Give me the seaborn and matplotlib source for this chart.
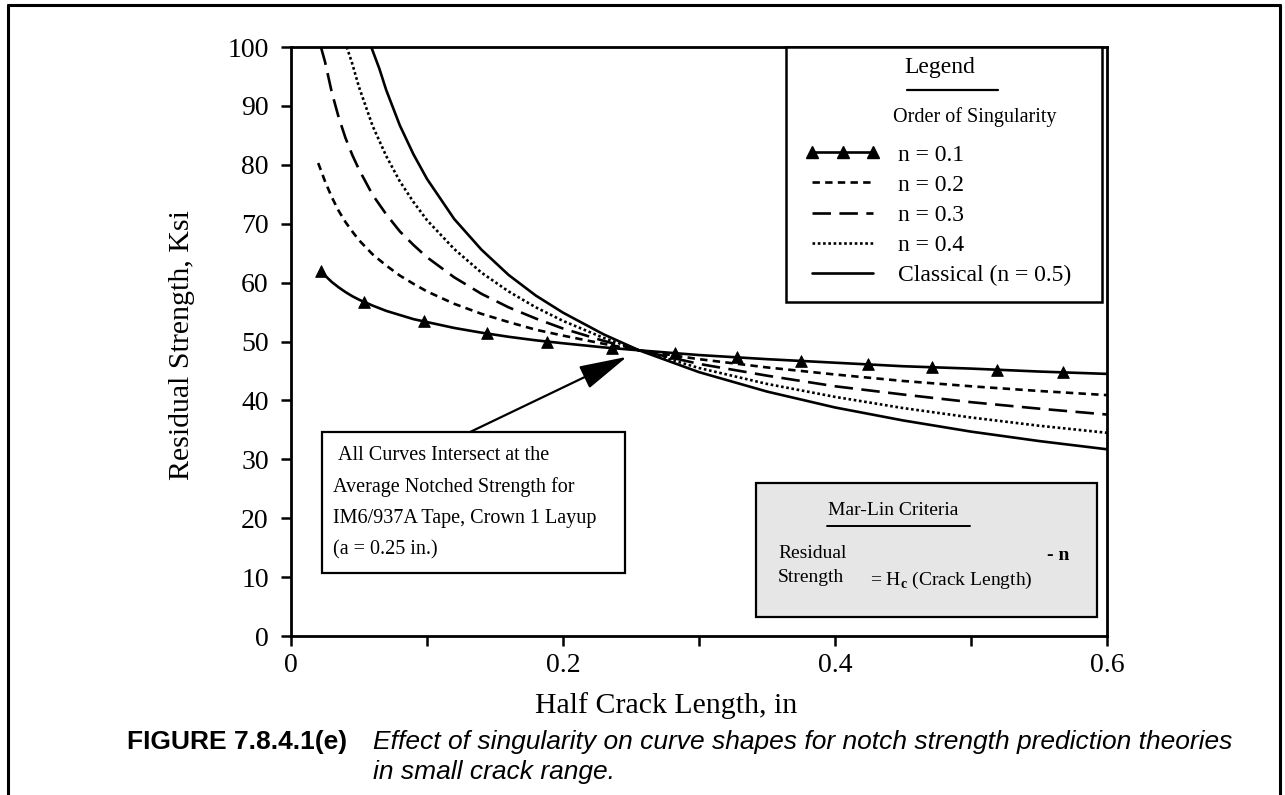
import numpy as np
import pandas as pd
import seaborn as sns
import matplotlib.pyplot as plt
from matplotlib.lines import Line2D
from matplotlib.patches import Rectangle

# values: half crack length (in) vs residual strength (ksi)
n01_x = [0.022, 0.025, 0.03, 0.035, 0.04, 0.045, 0.05, 0.06, 0.07, 0.08, 0.09, 0.10, 0.12,
         0.14, 0.16, 0.18, 0.20, 0.23, 0.256, 0.30, 0.35, 0.40, 0.45, 0.50, 0.55, 0.60]
n01_y = [62.0, 61.2, 60.1, 59.2, 58.4, 57.7, 57.1, 56.1, 55.2, 54.5, 53.8, 53.3, 52.3,
         51.5, 50.8, 50.2, 49.7, 49.0, 48.5, 47.7, 47.0, 46.4, 45.8, 45.4, 44.9, 44.5]

n02_x = [0.02, 0.025, 0.03, 0.035, 0.04, 0.045, 0.05, 0.06, 0.07, 0.08, 0.09, 0.10, 0.12,
         0.14, 0.16, 0.18, 0.20, 0.23, 0.256, 0.30, 0.35, 0.40, 0.45, 0.50, 0.55, 0.60]
n02_y = [80.3, 77.2, 74.5, 72.2, 70.3, 68.7, 67.2, 64.8, 62.9, 61.2, 59.8, 58.5, 56.4,
         54.7, 53.3, 52.0, 51.0, 49.6, 48.5, 47.0, 45.6, 44.4, 43.3, 42.4, 41.6, 40.9]

n03_x = [0.022, 0.025, 0.03, 0.035, 0.04, 0.045, 0.05, 0.06, 0.07, 0.08, 0.09, 0.10, 0.12,
         0.14, 0.16, 0.18, 0.20, 0.23, 0.256, 0.30, 0.35, 0.40, 0.45, 0.50, 0.55, 0.60]
n03_y = [100.0, 97.5, 92.3, 88.1, 84.6, 81.7, 79.2, 74.9, 71.6, 68.7, 66.4, 64.3, 60.9,
         58.1, 55.8, 53.9, 52.2, 50.1, 48.5, 46.2, 44.2, 42.4, 41.0, 39.7, 38.6, 37.6]

n04_x = [0.041, 0.045, 0.05, 0.06, 0.07, 0.08, 0.09, 0.10, 0.12, 0.14, 0.16,
         0.18, 0.20, 0.23, 0.256, 0.30, 0.35, 0.40, 0.45, 0.50, 0.55, 0.60]
n04_y = [100.0, 97.2, 93.2, 86.6, 81.5, 77.2, 73.7, 70.6, 65.7, 61.7, 58.5,
         55.8, 53.5, 50.6, 48.5, 45.5, 42.8, 40.6, 38.7, 37.1, 35.7, 34.5]

n05_x = [0.059, 0.065, 0.07, 0.08, 0.09, 0.10, 0.12, 0.14, 0.16, 0.18, 0.20,
         0.23, 0.256, 0.30, 0.35, 0.40, 0.45, 0.50, 0.55, 0.60]
n05_y = [100.0, 96.3, 92.7, 86.7, 81.8, 77.6, 70.8, 65.6, 61.3, 57.8, 54.9,
         51.2, 48.5, 44.8, 41.5, 38.8, 36.6, 34.7, 33.1, 31.7]

# triangle symbols on the n = 0.1 curve
tri_x = [0.022, 0.054, 0.098, 0.144, 0.188, 0.236, 0.282, 0.328, 0.375, 0.424, 0.471, 0.519, 0.568]
tri_y = [62.0, 56.7, 53.4, 51.4, 50.0, 48.9, 48.0, 47.3, 46.7, 46.1, 45.6, 45.2, 44.8]

labels = ["n = 0.1", "n = 0.2", "n = 0.3", "n = 0.4", "Classical (n = 0.5)"]
x_ticks = [0, 0.1, 0.2, 0.3, 0.4, 0.5, 0.6]
x_ticklabels = ["0", "", "0.2", "", "0.4", "", "0.6"]
y_ticks = [0, 10, 20, 30, 40, 50, 60, 70, 80, 90, 100]

sns.set_theme(style="ticks")
plt.rcParams['font.family'] = ['Liberation Serif', 'DejaVu Serif']
plt.rcParams['mathtext.fontset'] = 'custom'
plt.rcParams['mathtext.rm'] = 'Liberation Serif'
plt.rcParams['mathtext.bf'] = 'Liberation Serif:bold'
for k in ['text.color', 'axes.labelcolor', 'xtick.color', 'ytick.color', 'axes.edgecolor']:
    plt.rcParams[k] = 'black'

W, H = 1285, 795
fig = plt.figure(figsize=(W / 100, H / 100), dpi=100)
ax = fig.add_axes([291 / W, 1 - 636 / H, (1107 - 291) / W, (636 - 47) / H])

lw = 1.9
styles = ['-', (0, (2.8, 2.0)), (0, (7.0, 3.2)), (0, (1, 1)), '-']
series = [(n01_x, n01_y), (n02_x, n02_y), (n03_x, n03_y), (n04_x, n04_y), (n05_x, n05_y)]
for (xs, ys), ls in zip(series, styles):
    sns.lineplot(x=xs, y=ys, ax=ax, color='black', lw=lw, linestyle=ls)
sns.scatterplot(x=tri_x, y=tri_y, ax=ax, marker='^', s=70, color='black',
                edgecolor='black', zorder=4, legend=False)

ax.set_xlim(0, 0.6)
ax.set_ylim(0, 100)
ax.set_xticks(x_ticks)
ax.set_xticklabels(x_ticklabels)
ax.set_yticks(y_ticks)
ax.tick_params(direction='out', length=7, width=1.8, labelsize=20, color='black', labelcolor='black')
ax.tick_params(axis='y', pad=9)
ax.tick_params(axis='x', pad=5)
for s in ax.spines.values():
    s.set_linewidth(2.0)
    s.set_color('black')
ax.set_xlabel("")
ax.set_ylabel("")

fig.text(182 / W, 1 - 345 / H, "Residual Strength, Ksi", rotation=90, fontsize=21.5,
         ha='center', va='center')
fig.text(666 / W, 1 - 706 / H, "Half Crack Length, in", fontsize=21.5, ha='center', va='center')

# legend box
ax.add_patch(Rectangle((0.6066, 0.5671), 0.3873, 0.4329, transform=ax.transAxes,
                       facecolor='white', edgecolor='black', lw=1.8, zorder=5, clip_on=False))
ax.text(0.7953, 0.966, "Legend", transform=ax.transAxes, fontsize=17, ha='center', va='center', zorder=6)
ax.add_line(Line2D([0.7549, 0.8664], [0.927, 0.927], transform=ax.transAxes, color='black', lw=1.6, zorder=6))
ax.text(0.8382, 0.8812, "Order of Singularity", transform=ax.transAxes, fontsize=14.5,
        ha='center', va='center', zorder=6)
handles = [Line2D([], [], color='black', lw=lw, linestyle=ls) for ls in styles]
handles[0].set_marker('^')
handles[0].set_markersize(8)
leg = ax.legend(handles, labels, loc='upper left', bbox_to_anchor=(0.6299, 0.835),
                bbox_transform=ax.transAxes, frameon=False, fontsize=17, numpoints=3,
                handlelength=3.2, handletextpad=0.75, labelspacing=0.36,
                borderpad=0, borderaxespad=0)
leg.set_zorder(7)

# note box with arrow to the intersection point
ax.add_patch(Rectangle((0.038, 0.107), 0.3713, 0.2393, transform=ax.transAxes,
                       facecolor='white', edgecolor='black', lw=1.6, zorder=5))
note = ["All Curves Intersect at the", "Average Notched Strength for",
        "IM6/937A Tape, Crown 1 Layup", "(a = 0.25 in.)"]
for i, (tx, ty) in enumerate([(0.0576, 0.3073), (0.0515, 0.253), (0.0515, 0.2003), (0.0515, 0.146)]):
    ax.text(tx, ty, note[i], transform=ax.transAxes, fontsize=14.5, ha='left', va='center', zorder=6)
ax.annotate("", xy=(0.247, 47.4), xytext=(0.2194, 0.3463), xycoords='data', textcoords='axes fraction',
            arrowprops=dict(arrowstyle='-|>,head_length=1.5,head_width=0.38', mutation_scale=20,
                            color='black', lw=1.6, shrinkA=0, shrinkB=0), zorder=6)

# Mar-Lin criteria box
ax.add_patch(Rectangle((0.5699, 0.0323), 0.4178, 0.2275, transform=ax.transAxes,
                       facecolor='#e6e6e6', edgecolor='black', lw=1.6, zorder=5))
ax.text(0.7377, 0.2139, "Mar-Lin Criteria", transform=ax.transAxes, fontsize=14,
        ha='center', va='center', zorder=6)
ax.add_line(Line2D([0.6569, 0.8321], [0.1868, 0.1868], transform=ax.transAxes, color='black', lw=1.4, zorder=6))
ax.text(0.5968, 0.1409, "Residual", transform=ax.transAxes, fontsize=14, ha='left', va='center', zorder=6)
ax.text(0.5968, 0.0985, "Strength", transform=ax.transAxes, fontsize=14, ha='left', va='center', zorder=6)
ax.text(0.7096, 0.0951, r"= H$_{\mathbf{c}}$ (Crack Length)", transform=ax.transAxes, fontsize=14,
        ha='left', va='center', zorder=6)
ax.text(0.9265, 0.1375, "- n", transform=ax.transAxes, fontsize=14, fontweight='bold',
        ha='left', va='center', zorder=6)

# caption
fig.text(127 / W, 1 - 742 / H, "FIGURE 7.8.4.1(e)", family='Liberation Sans', fontweight='bold',
         fontsize=19, ha='left', va='center')
fig.text(373 / W, 1 - 742 / H, "Effect of singularity on curve shapes for notch strength prediction theories",
         family='Liberation Sans', style='italic', fontsize=19, ha='left', va='center')
fig.text(373 / W, 1 - 772 / H, "in small crack range.", family='Liberation Sans', style='italic',
         fontsize=19, ha='left', va='center')

# page frame
for xs, ys in [([8, 8], [5, 795]), ([8, 1280], [5, 5]), ([1280, 1280], [5, 795])]:
    fig.add_artist(Line2D([x / W for x in xs], [1 - y / H for y in ys], transform=fig.transFigure,
                          color='black', lw=2.2))

fig.savefig("out.png", dpi=100, facecolor='white')
